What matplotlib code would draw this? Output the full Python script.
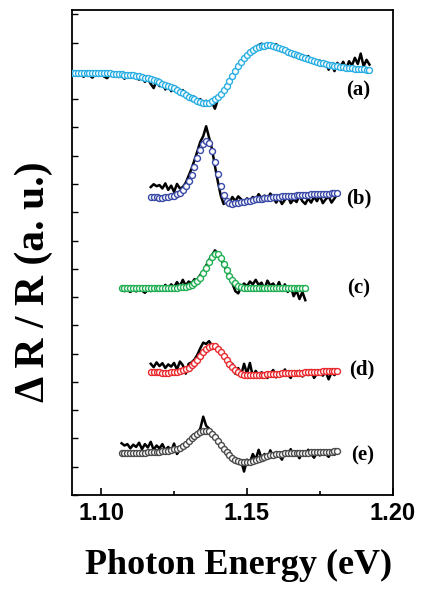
import numpy as np
import matplotlib
matplotlib.use("Agg")
import matplotlib.pyplot as plt
from matplotlib.ticker import MultipleLocator

# Energy range of each spectrum (eV), sampled every 1 meV
E_RANGE = {
    "a": (1.090, 1.192),
    "b": (1.117, 1.181),
    "c": (1.107, 1.170),
    "d": (1.117, 1.181),
    "e": (1.107, 1.181),
}

# Measured dR/R (a.u., relative to each trace's baseline)
DATA_A = [-0.05, 0.02, -0.12, -0.08, -0.15, -0.04, -0.10, -0.18, -0.06, -0.12,
          -0.02, -0.14, -0.20, -0.08, -0.13, -0.03, -0.16, -0.10, -0.22, -0.05,
          -0.12, -0.06, -0.19, -0.25, -0.15, -0.33, -0.22, -0.40, -0.55, -0.30,
          -0.48, -0.36, -0.60, -0.42, -0.66, -0.50, -0.58, -0.74, -0.62, -0.88,
          -0.79, -0.95, -0.86, -1.02, -0.94, -1.10, -1.00, -1.12, -1.05, -1.28,
          -0.96, -0.80, -0.70, -0.52, -0.33, -0.15, 0.10, 0.25, 0.42, 0.55,
          0.60, 0.76, 0.84, 0.90, 0.97, 1.02, 0.94, 1.00, 0.98, 0.86,
          1.00, 0.90, 0.78, 0.84, 0.66, 0.72, 0.55, 0.68, 0.50, 0.62,
          0.45, 0.58, 0.40, 0.46, 0.30, 0.42, 0.28, 0.36, 0.10, 0.30,
          0.05, 0.34, 0.20, 0.38, 0.12, 0.40, 0.25, 0.52, 0.30, 0.67,
          0.22, 0.45, 0.28]
DATA_B = [0.35, 0.45, 0.38, 0.42, 0.30, 0.48, 0.25, 0.40, 0.18, 0.46,
          0.30, 0.35, 0.50, 0.75, 1.00, 1.30, 1.62, 1.95, 2.15, 2.50,
          2.10, 1.70, 1.10, 0.55, 0.05, -0.25, -0.10, -0.20, 0.00, -0.15,
          0.02, -0.08, -0.18, -0.05, -0.12, 0.00, -0.10, 0.10, -0.05, 0.05,
          -0.08, 0.12, -0.02, -0.20, -0.05, -0.25, -0.10, 0.02, -0.22, -0.08,
          -0.18, 0.05, -0.15, -0.25, -0.05, -0.20, 0.00, -0.15, 0.05, -0.22,
          -0.08, 0.02, -0.20, -0.05, 0.10]
DATA_C = [-0.05, -0.12, -0.08, -0.15, -0.06, -0.13, -0.04, -0.10, -0.18, -0.07,
          -0.12, -0.03, -0.10, 0.05, -0.08, 0.10, -0.02, 0.12, 0.02, 0.20,
          0.05, 0.28, 0.08, 0.22, 0.15, 0.30, 0.28, 0.45, 0.58, 0.78,
          0.98, 1.15, 1.32, 1.22, 1.02, 0.82, 0.58, 0.36, 0.15, -0.12,
          -0.20, 0.02, 0.15, 0.05, 0.22, 0.12, 0.28, 0.10, 0.18, -0.05,
          0.25, 0.08, 0.15, -0.02, 0.20, -0.10, 0.12, -0.15, 0.05, -0.30,
          -0.10, -0.40, -0.15, -0.44]
DATA_D = [0.30, 0.18, 0.35, 0.22, 0.32, 0.15, 0.28, 0.20, 0.33, 0.10,
          0.38, 0.25, -0.05, 0.30, 0.35, 0.45, 0.62, 0.85, 1.05, 1.00,
          1.10, 0.95, 0.98, 0.80, 0.75, 0.50, 0.45, 0.25, 0.30, -0.05,
          0.15, -0.10, 0.30, -0.05, 0.33, -0.15, 0.05, -0.12, 0.00, -0.08,
          -0.20, -0.05, 0.08, -0.18, 0.00, -0.12, 0.10, -0.08, -0.20, 0.02,
          -0.12, 0.05, -0.15, 0.00, -0.10, 0.08, -0.20, -0.05, 0.05, -0.12,
          0.02, -0.25, 0.00, -0.10, 0.05]
DATA_E = [0.33, 0.25, 0.30, 0.15, 0.28, 0.20, 0.35, 0.12, 0.30, 0.18,
          0.38, 0.10, 0.25, 0.15, 0.30, 0.08, 0.20, 0.05, 0.32, -0.05,
          0.10, 0.20, 0.35, 0.30, 0.52, 0.60, 0.70, 0.85, 1.27, 0.95,
          0.85, 0.70, 0.50, 0.45, 0.20, 0.25, -0.05, 0.05, -0.30, -0.20,
          -0.40, -0.30, -0.67, -0.25, -0.35, -0.05, -0.25, 0.10, -0.20, -0.05,
          -0.22, 0.08, -0.15, 0.02, -0.10, -0.25, 0.05, -0.08, 0.12, -0.12,
          -0.02, -0.20, 0.05, -0.08, 0.10, -0.05, -0.18, 0.00, -0.10, 0.08,
          -0.05, -0.15, 0.02, -0.08, 0.05]

# Line-shape fits (open circles)
FIT_A = [0.00, 0.00, 0.00, 0.00, -0.01, -0.01, -0.01, -0.01, -0.01, -0.02,
         -0.02, -0.02, -0.03, -0.03, -0.04, -0.04, -0.05, -0.06, -0.07, -0.08,
         -0.09, -0.10, -0.11, -0.13, -0.15, -0.18, -0.21, -0.24, -0.27, -0.31,
         -0.35, -0.39, -0.43, -0.47, -0.51, -0.56, -0.62, -0.68, -0.74, -0.80,
         -0.85, -0.90, -0.95, -1.00, -1.04, -1.07, -1.08, -1.06, -1.02, -0.95,
         -0.86, -0.75, -0.62, -0.46, -0.29, -0.11, 0.07, 0.23, 0.38, 0.51,
         0.62, 0.72, 0.80, 0.86, 0.90, 0.93, 0.95, 0.96, 0.96, 0.94,
         0.91, 0.87, 0.83, 0.79, 0.74, 0.70, 0.66, 0.61, 0.58, 0.54,
         0.50, 0.47, 0.43, 0.40, 0.37, 0.34, 0.32, 0.29, 0.27, 0.25,
         0.23, 0.22, 0.20, 0.19, 0.17, 0.16, 0.15, 0.14, 0.13, 0.12,
         0.11, 0.10, 0.09]
FIT_B = [0.00, -0.01, -0.01, -0.02, -0.02, -0.01, 0.00, 0.02, 0.05, 0.09,
         0.15, 0.24, 0.37, 0.55, 0.78, 1.06, 1.37, 1.66, 1.88, 1.99,
         1.92, 1.62, 1.22, 0.80, 0.40, 0.08, -0.13, -0.22, -0.24, -0.23,
         -0.21, -0.19, -0.17, -0.15, -0.13, -0.11, -0.09, -0.07, -0.06, -0.04,
         -0.03, -0.02, -0.01, 0.00, 0.01, 0.02, 0.03, 0.04, 0.05, 0.05,
         0.06, 0.07, 0.07, 0.08, 0.08, 0.09, 0.10, 0.10, 0.11, 0.11,
         0.12, 0.12, 0.13, 0.13, 0.14]
FIT_C = [0.00, 0.00, 0.00, 0.00, 0.00, 0.00, 0.00, -0.01, -0.01, -0.01,
         -0.01, -0.01, -0.02, -0.02, -0.02, -0.02, -0.02, -0.01, -0.01, 0.00,
         0.01, 0.02, 0.04, 0.06, 0.10, 0.16, 0.25, 0.36, 0.51, 0.70,
         0.90, 1.08, 1.20, 1.18, 1.05, 0.85, 0.63, 0.43, 0.27, 0.15,
         0.07, 0.02, -0.01, -0.02, -0.02, -0.02, -0.01, -0.01, -0.01, 0.00,
         0.00, 0.00, 0.00, 0.00, 0.00, 0.00, 0.00, 0.00, 0.00, 0.00,
         0.00, 0.00, 0.00, 0.00]
FIT_D = [0.00, 0.00, 0.00, 0.00, -0.01, -0.01, -0.01, 0.00, 0.01, 0.02,
         0.04, 0.07, 0.11, 0.16, 0.24, 0.33, 0.45, 0.57, 0.70, 0.81,
         0.90, 0.94, 0.92, 0.84, 0.71, 0.57, 0.43, 0.30, 0.18, 0.08,
         0.00, -0.05, -0.08, -0.10, -0.10, -0.10, -0.09, -0.09, -0.08, -0.08,
         -0.07, -0.07, -0.06, -0.05, -0.05, -0.04, -0.04, -0.03, -0.03, -0.02,
         -0.02, -0.01, -0.01, 0.00, 0.00, 0.01, 0.01, 0.02, 0.02, 0.03,
         0.03, 0.04, 0.04, 0.05, 0.06]
FIT_E = [0.00, 0.00, 0.00, 0.00, 0.00, 0.00, 0.00, 0.00, 0.00, 0.01,
         0.01, 0.01, 0.02, 0.03, 0.04, 0.05, 0.07, 0.09, 0.11, 0.13,
         0.17, 0.24, 0.32, 0.41, 0.50, 0.58, 0.66, 0.72, 0.76, 0.78,
         0.75, 0.66, 0.55, 0.42, 0.28, 0.14, 0.02, -0.09, -0.18, -0.25,
         -0.30, -0.33, -0.35, -0.34, -0.32, -0.29, -0.26, -0.22, -0.19, -0.16,
         -0.13, -0.10, -0.08, -0.06, -0.05, -0.04, -0.03, -0.02, -0.02, -0.01,
         -0.01, 0.00, 0.00, 0.00, 0.00, 0.01, 0.01, 0.01, 0.02, 0.02,
         0.02, 0.03, 0.03, 0.04, 0.04]

LABELS = ["a", "b", "c", "d", "e"]
DATA = [DATA_A, DATA_B, DATA_C, DATA_D, DATA_E]
FITS = [FIT_A, FIT_B, FIT_C, FIT_D, FIT_E]

# vertical stacking offsets
OFFSETS = [14.94, 10.54, 7.33, 4.34, 1.50]
COLORS = ["#2aaee3", "#3a4aa6", "#1fae50", "#e8282c", "#4a4a4a"]
LABEL_POS = [(1.1880, 14.31), (1.1885, 10.50), (1.1882, 7.31),
             (1.1895, 4.43), (1.1898, 1.41)]

fig = plt.figure(figsize=(4.21, 5.90), dpi=100)
ax = fig.add_axes([0.171, 0.161, 0.762, 0.822])

for key, data, fit, off, col, lp in zip(LABELS, DATA, FITS, OFFSETS,
                                       COLORS, LABEL_POS):
    e0, e1 = E_RANGE[key]
    energy = np.linspace(e0, e1, len(data))
    ax.plot(energy, np.array(data) + off, color="black", lw=1.8, zorder=2)
    ax.plot(energy, np.array(fit) + off, ls="none", marker="o", ms=4.3,
            mfc="white", mec=col, mew=1.0, zorder=3)
    ax.text(lp[0], lp[1], f"({key})", ha="center", va="center",
            family="Liberation Serif", weight="bold", fontsize=15)

ax.set_xlim(1.09, 1.20)
ax.set_ylim(0, 17.15)
ax.xaxis.set_major_locator(MultipleLocator(0.05))
ax.xaxis.set_minor_locator(MultipleLocator(0.025))
ax.yaxis.set_major_locator(MultipleLocator(1))
ax.set_yticklabels([])
ax.tick_params(axis="x", which="major", direction="in", length=5, width=1.2,
               labelsize=17, pad=5)
ax.tick_params(axis="x", which="minor", direction="in", length=3, width=1.2)
ax.tick_params(axis="y", direction="in", length=4, width=1.0)
ax.xaxis.set_major_formatter(plt.FuncFormatter(lambda v, p: f"{v:.2f}"))
for lab in ax.get_xticklabels():
    lab.set_family("Liberation Sans")
    lab.set_weight("bold")
for sp in ax.spines.values():
    sp.set_linewidth(1.3)

ax.set_xlabel("Photon Energy (eV)", family="Liberation Serif", weight="bold",
              fontsize=26)
ax.xaxis.set_label_coords(0.52, -0.112)
ax.set_ylabel("\u0394 R / R (a. u.)", family="Liberation Serif", weight="bold",
              fontsize=30)
ax.yaxis.set_label_coords(-0.06, 0.44)

fig.savefig("out.png", dpi=100)
